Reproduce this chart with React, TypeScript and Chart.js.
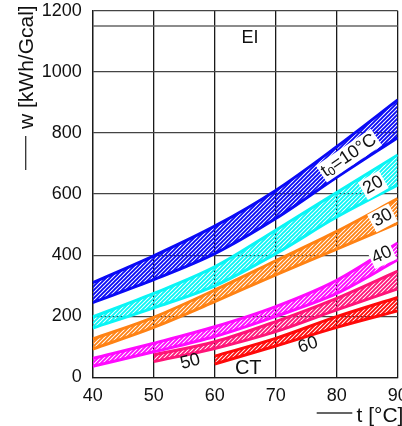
import React, { useEffect, useRef } from 'react';
import { Chart, registerables } from 'chart.js';
Chart.register(...registerables);

// ---- data ----
const xTicks = [40, 50, 60, 70, 80, 90];
const yTicks = [0, 200, 400, 600, 800, 1000, 1200];
const tFrom40 = [40, 50, 60, 70, 80, 90];
const tFrom50 = [50, 60, 70, 80, 90];
const tFrom60 = [60, 70, 80, 90];

const blueUpper = [310, 398, 495, 612, 755, 908];
const blueLower = [245, 320, 405, 520, 655, 785];
const cyanUpper = [198, 275, 362, 482, 605, 728];
const cyanLower = [162, 228, 300, 405, 525, 630];
const orangeUpper = [126, 197, 286, 382, 478, 585];
const orangeLower = [93, 164, 248, 336, 420, 505];
const magentaUpper = [62, 112, 166, 232, 318, 440];
const magentaLower = [37, 84, 134, 200, 275, 385];
const pinkUpper = [74, 117, 183, 259, 348];
const pinkLower = [52, 95, 150, 221, 290];
const redUpper = [70, 128, 199, 262];
const redLower = [44, 103, 164, 218];

const eiLimit = 1150;
const eiX = [40, 90];

const bandNames = ['10', '20', '30', '40', '50', '60'];
const bandColors = ['#0a0af5', '#0af5f5', '#ff8214', '#ff0aff', '#ff1478', '#ff0a0a'];

const FONT = 'Liberation Sans, Arial, sans-serif';

function hatch(color: string) {
  const c = document.createElement('canvas');
  c.width = 4;
  c.height = 4;
  const g = c.getContext('2d')!;
  g.strokeStyle = color;
  g.lineWidth = 1.9;
  g.beginPath();
  g.moveTo(0, 4); g.lineTo(4, 0);
  g.moveTo(-1, 1); g.lineTo(1, -1);
  g.moveTo(3, 5); g.lineTo(5, 3);
  g.stroke();
  return g.createPattern(c, 'repeat')!;
}

const pts = (xs: number[], ys: number[]) => xs.map((x, i) => ({ x, y: ys[i] }));

// label anchors (data coords)
const bandLabels = [
  { parts: [['t', 18, 0], ['0', 12, 4], ['=10°C', 18, 0]], x: 82.0, y: 726, angle: -34, box: true },
  { parts: [['20', 18, 0]], x: 86.0, y: 629, angle: -30, box: true },
  { parts: [['30', 18, 0]], x: 87.5, y: 522, angle: -28, box: true },
  { parts: [['40', 18, 0]], x: 87.4, y: 401, angle: -25, box: true },
  { parts: [['50', 18, 0]], x: 56.0, y: 52, angle: -15, box: false },
  { parts: [['60', 18, 0]], x: 75.3, y: 106, angle: -18, box: false },
  { parts: [['EI', 18, 0]], x: 65.8, y: 1111, angle: 0, box: false },
  { parts: [['CT', 20, 0]], x: 65.5, y: 28, angle: 0, box: false },
];

const zeroPad = (s: any) => {
  s.paddingTop = 0;
  s.paddingBottom = 0;
  s.paddingLeft = 0;
  s.paddingRight = 0;
};

export default function App() {
  const ref = useRef<HTMLCanvasElement>(null);
  useEffect(() => {
    const canvas = ref.current!;
    const bands = [
      [tFrom40, blueUpper, blueLower],
      [tFrom40, cyanUpper, cyanLower],
      [tFrom40, orangeUpper, orangeLower],
      [tFrom40, magentaUpper, magentaLower],
      [tFrom50, pinkUpper, pinkLower],
      [tFrom60, redUpper, redLower],
    ] as number[][][];
    const datasets: any[] = [
      {
        label: 'EI',
        data: pts(eiX, [eiLimit, eiLimit]),
        borderColor: '#666',
        borderWidth: 1.3,
        pointRadius: 0,
        fill: false,
      },
    ];
    bands.forEach((b, i) => {
      const color = bandColors[i];
      datasets.push({
        label: bandNames[i] + ' lower',
        data: pts(b[0], b[2]),
        borderColor: color,
        borderWidth: 3,
        pointRadius: 0,
        cubicInterpolationMode: 'monotone',
        fill: false,
      });
      datasets.push({
        label: bandNames[i] + ' upper',
        data: pts(b[0], b[1]),
        borderColor: color,
        borderWidth: 3,
        pointRadius: 0,
        cubicInterpolationMode: 'monotone',
        fill: '-1',
        backgroundColor: hatch(color),
      });
    });

    const labelPlugin = {
      id: 'labels',
      afterDatasetsDraw(chart: any) {
        const ctx = chart.ctx;
        const xs = chart.scales.x;
        const ys = chart.scales.y;
        bandLabels.forEach((l) => {
          const px = xs.getPixelForValue(l.x);
          const py = ys.getPixelForValue(l.y);
          ctx.save();
          ctx.translate(px, py);
          ctx.rotate((l.angle * Math.PI) / 180);
          let w = 0;
          l.parts.forEach((p: any) => {
            ctx.font = `${p[1]}px ${FONT}`;
            w += ctx.measureText(p[0]).width;
          });
          if (l.box) {
            ctx.fillStyle = '#fff';
            ctx.fillRect(-w / 2 - 2, -10, w + 4, 20);
          }
          ctx.fillStyle = '#111';
          ctx.textBaseline = 'middle';
          ctx.textAlign = 'left';
          let cx = -w / 2;
          l.parts.forEach((p: any) => {
            ctx.font = `${p[1]}px ${FONT}`;
            ctx.fillText(p[0], cx, p[2]);
            cx += ctx.measureText(p[0]).width;
          });
          ctx.restore();
        });
      },
      afterDraw(chart: any) {
        const ctx = chart.ctx;
        ctx.save();
        ctx.strokeStyle = '#333';
        ctx.lineWidth = 1.3;
        ctx.beginPath();
        ctx.moveTo(316.7, 413);
        ctx.lineTo(352.3, 413);
        ctx.moveTo(25.7, 136);
        ctx.lineTo(25.7, 170);
        ctx.stroke();
        ctx.fillStyle = '#111';
        ctx.font = `21px ${FONT}`;
        ctx.textBaseline = 'alphabetic';
        ctx.textAlign = 'left';
        ctx.fillText('t [°C]', 356.5, 422);
        ctx.translate(33, 129);
        ctx.rotate(-Math.PI / 2);
        ctx.fillText('w [kWh/Gcal]', 0, 0);
        ctx.restore();
      },
    };

    const tickFont = { family: FONT, size: 18 };
    const chart = new Chart(canvas, {
      type: 'line',
      data: { datasets },
      plugins: [labelPlugin],
      options: {
        animation: false,
        responsive: false,
        maintainAspectRatio: false,
        devicePixelRatio: 1,
        layout: { padding: { top: 10.7, right: 4.3, left: 0, bottom: 0 } },
        plugins: { legend: { display: false }, tooltip: { enabled: false } },
        scales: {
          x: {
            type: 'linear',
            min: 40,
            max: 90,
            afterBuildTicks: (s: any) => {
              s.ticks = xTicks.map((v) => ({ value: v }));
            },
            afterFit: (s: any) => {
              s.height = 48.5;
              zeroPad(s);
            },
            grid: { color: '#1a1a1a', lineWidth: 1.3, drawTicks: false },
            border: { color: '#1a1a1a', width: 1.3 },
            ticks: {
              padding: 8,
              font: tickFont,
              color: '#111',
              maxRotation: 0,
              autoSkip: false,
              callback: (v: any) => String(v),
            },
          },
          y: {
            type: 'linear',
            min: 0,
            max: 1200,
            afterBuildTicks: (s: any) => {
              s.ticks = yTicks.map((v) => ({ value: v }));
            },
            afterFit: (s: any) => {
              s.width = 92.7;
              zeroPad(s);
            },
            grid: { color: '#444', lineWidth: 1.3, drawTicks: false },
            border: { color: '#1a1a1a', width: 1.3 },
            ticks: {
              padding: 11,
              font: tickFont,
              color: '#111',
              autoSkip: false,
              callback: (v: any) => String(v),
            },
          },
        },
      } as any,
    });
    return () => chart.destroy();
  }, []);
  return (
    <div style={{ position: 'absolute', left: 0, top: 0, width: 402, height: 426, background: '#fff' }}>
      <canvas ref={ref} width={402} height={426} style={{ display: 'block' }} />
    </div>
  );
}
